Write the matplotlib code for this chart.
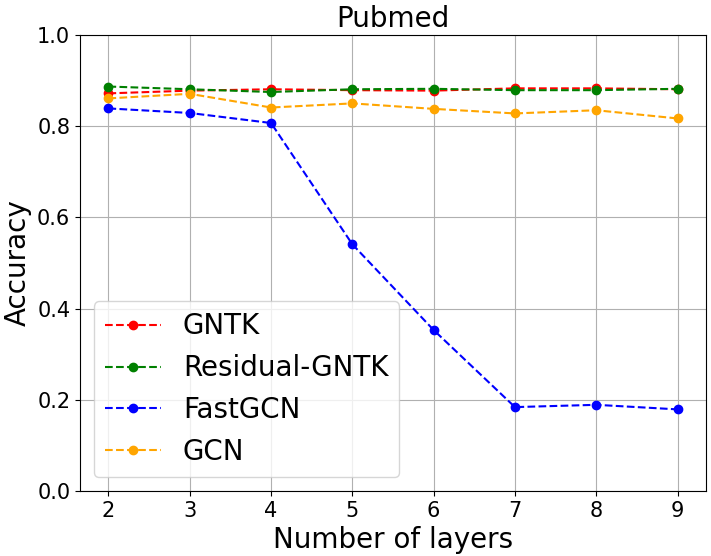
import matplotlib
matplotlib.use('Agg')
import matplotlib.pyplot as plt

layers = [2, 3, 4, 5, 6, 7, 8, 9]

gntk = [0.872, 0.878, 0.881, 0.879, 0.878, 0.883, 0.883, 0.881]
residual_gntk = [0.887, 0.881, 0.875, 0.881, 0.882, 0.879, 0.879, 0.882]
fastgcn = [0.839, 0.829, 0.807, 0.541, 0.353, 0.184, 0.189, 0.179]
gcn = [0.861, 0.871, 0.841, 0.850, 0.838, 0.828, 0.835, 0.817]

fig = plt.figure(figsize=(7.11, 5.56), dpi=100)
ax = fig.add_axes([80/711, 65/556, 626/711, 456/556])

ax.plot(layers, gntk, 'o--', color='red', label='GNTK')
ax.plot(layers, residual_gntk, 'o--', color='green', label='Residual-GNTK')
ax.plot(layers, fastgcn, 'o--', color='blue', label='FastGCN')
ax.plot(layers, gcn, 'o--', color='orange', label='GCN')

ax.set_ylim(0, 1.0)
ax.set_title('Pubmed', fontsize=20)
ax.set_xlabel('Number of layers', fontsize=20)
ax.set_ylabel('Accuracy', fontsize=20)
ax.tick_params(labelsize=15)
ax.grid(True)
ax.legend(loc='lower left', fontsize=20)

fig.savefig('out.png', dpi=100)
